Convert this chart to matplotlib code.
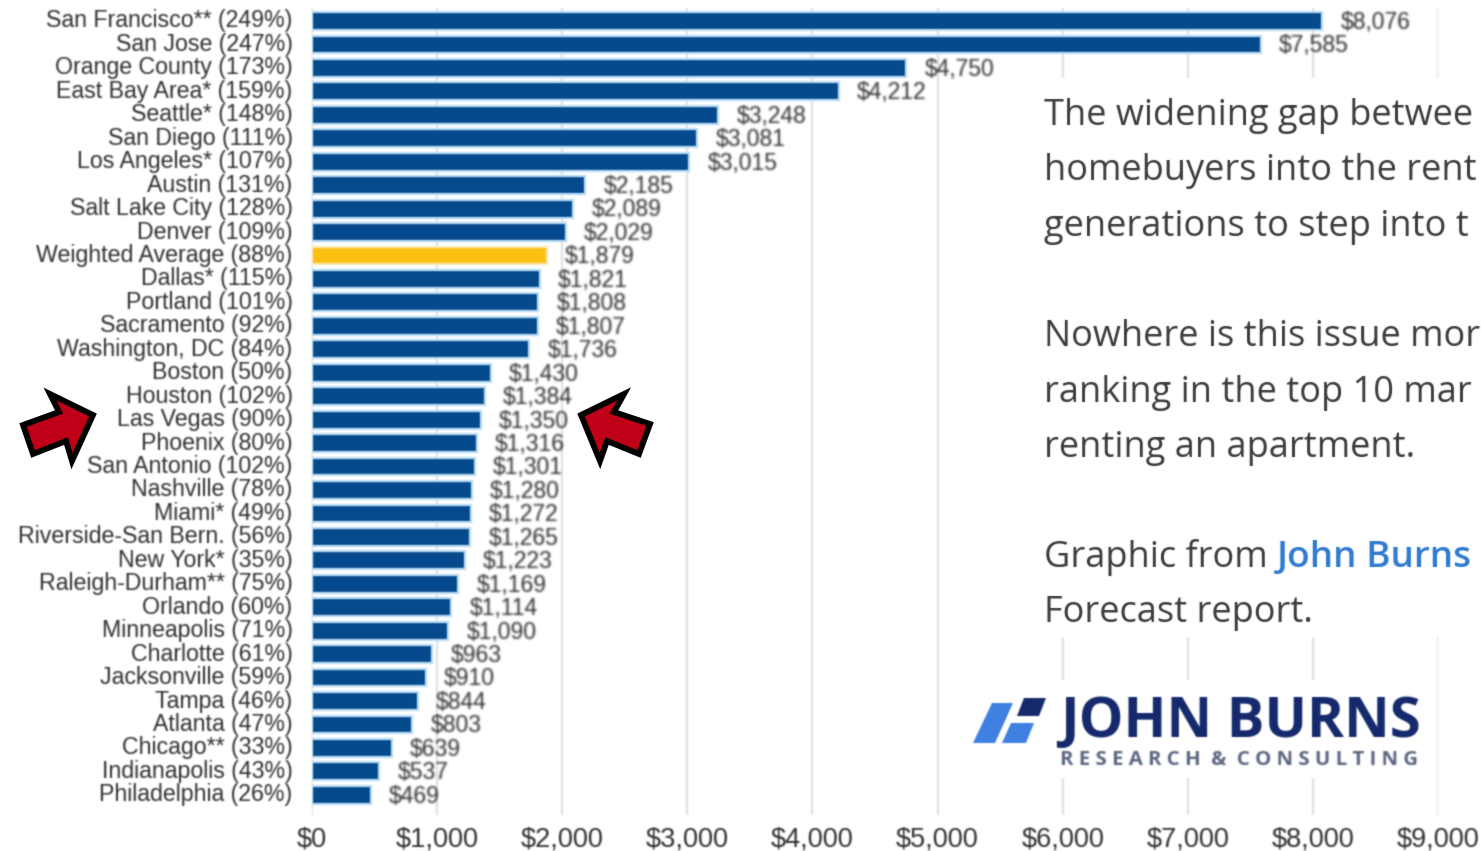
import matplotlib
matplotlib.use("Agg")
import matplotlib.pyplot as plt
import numpy as np
from matplotlib.patches import Polygon, Rectangle
from matplotlib.transforms import IdentityTransform

W, H = 1481, 851

markets = ["San Francisco** (249%)", "San Jose (247%)", "Orange County (173%)", "East Bay Area* (159%)",
           "Seattle* (148%)", "San Diego (111%)", "Los Angeles* (107%)", "Austin (131%)",
           "Salt Lake City (128%)", "Denver (109%)", "Weighted Average (88%)", "Dallas* (115%)",
           "Portland (101%)", "Sacramento (92%)", "Washington, DC (84%)", "Boston (50%)",
           "Houston (102%)", "Las Vegas (90%)", "Phoenix (80%)", "San Antonio (102%)",
           "Nashville (78%)", "Miami* (49%)", "Riverside-San Bern. (56%)", "New York* (35%)",
           "Raleigh-Durham** (75%)", "Orlando (60%)", "Minneapolis (71%)", "Charlotte (61%)",
           "Jacksonville (59%)", "Tampa (46%)", "Atlanta (47%)", "Chicago** (33%)",
           "Indianapolis (43%)", "Philadelphia (26%)"]
premium = [8076, 7585, 4750, 4212, 3248, 3081, 3015, 2185, 2089, 2029, 1879, 1821, 1808, 1807, 1736, 1430,
           1384, 1350, 1316, 1301, 1280, 1272, 1265, 1223, 1169, 1114, 1090, 963, 910, 844, 803, 639, 537, 469]
x_ticks = [0, 1000, 2000, 3000, 4000, 5000, 6000, 7000, 8000, 9000]
highlight = "Weighted Average (88%)"

body_lines = [("The widening gap betwee", 116), ("homebuyers into the rent", 171),
              ("generations to step into t", 227), ("Nowhere is this issue mor", 337),
              ("ranking in the top 10 mar", 393), ("renting an apartment.", 448),
              ("Forecast report.", 613)]

BLUE = "#054a8c"
GOLD = "#fdbf12"
GREY = "#2e2e2e"


def soften(sigma):
    # gaussian blur used as an agg filter, done on premultiplied colour
    def f(img, dpi):
        pad = int(3 * sigma) + 1
        t = np.arange(-pad, pad + 1)
        k = np.exp(-t ** 2 / (2 * sigma ** 2))
        k = k / k.sum()
        out = np.pad(img, ((pad, pad), (pad, pad), (0, 0)))
        out[..., :3] *= out[..., 3:]
        out = np.apply_along_axis(np.convolve, 0, out, k, mode="same")
        out = np.apply_along_axis(np.convolve, 1, out, k, mode="same")
        out[..., :3] /= np.maximum(out[..., 3:], 1e-4)
        return np.clip(out, 0, 1), -pad, -pad
    return f


def px(x, y):
    return x, H - y


fig = plt.figure(figsize=(W / 100, H / 100), dpi=100, facecolor="white")
plt.rcParams["font.family"] = ["Liberation Sans", "DejaVu Sans"]

# 0 sits at x=312, 9000 at x=1438; row i sits at y=21+23.45*i
ax = fig.add_axes([312 / W, 1 - 815 / H, (1438 - 312) / W, (815 - 8) / H])
ax.set_xlim(0, 9000)
ax.set_ylim(33.86, -0.554)
for s in ax.spines.values():
    s.set_visible(False)

ax.set_axisbelow(True)
ax.xaxis.grid(True, color="#d9d9d9", lw=1.2)
for g in ax.get_xgridlines():
    g.set_agg_filter(soften(0.9))

rows = np.arange(len(markets))
colors = [GOLD if m == highlight else BLUE for m in markets]
edges = ["#fde9b0" if m == highlight else "#b9dcf6" for m in markets]
bars = ax.barh(rows, premium, height=0.76, color=colors, edgecolor=edges, lw=1.6)
for b in bars:
    b.set_agg_filter(soften(0.7))

ax.set_yticks(rows, markets, fontsize=16.7, color=GREY, va="center")
ax.set_xticks(x_ticks, [f"${v:,}" for v in x_ticks], fontsize=19.5, color=GREY)
ax.tick_params(axis="y", length=0, pad=14)
ax.tick_params(axis="x", length=0, pad=8)
for lab in ax.get_yticklabels():
    lab.set_agg_filter(soften(0.8))
for lab in ax.get_xticklabels():
    lab.set_agg_filter(soften(0.8))

for i, v in enumerate(premium):
    ax.annotate(f"${v:,}", (v, i), xytext=(13, -1), textcoords="offset points",
                va="center", ha="left", fontsize=16.5, color=GREY,
                agg_filter=soften(0.8))

# white panel with the article text, drawn over the gridlines
tr = IdentityTransform()
fig.add_artist(Rectangle(px(962, 637), W - 962, 637 - 78, transform=tr, fc="white", ec="none", zorder=5))
fig.add_artist(Rectangle(px(960, 778), 1430 - 960, 778 - 680, transform=tr, fc="white", ec="none", zorder=5))

for line, y in body_lines:
    fig.text(*px(1044, y), line, transform=tr, family="Open Sans", fontsize=26, color="#3c3c3c",
             va="center", ha="left", zorder=6, agg_filter=soften(0.55))
fig.text(*px(1044, 558), "Graphic from", transform=tr, family="Open Sans", fontsize=26, color="#3c3c3c",
         va="center", ha="left", zorder=6, agg_filter=soften(0.55))
fig.text(*px(1277, 558), "John Burns", transform=tr, family="Open Sans", weight="semibold", fontsize=26.6,
         color="#2f7bd0", va="center", ha="left", zorder=6, agg_filter=soften(0.55))

# logo
logo_light = [[(973, 743), (992, 703), (1013, 703), (995, 743)],
              [(1002, 743), (1011, 723), (1034, 723), (1026, 743)]]
logo_dark = [[(1017, 716), (1024, 698), (1046, 698), (1039, 716)]]
for pts in logo_light:
    fig.add_artist(Polygon([px(*p) for p in pts], transform=tr, fc="#3f80e0", ec="none", zorder=6,
                           agg_filter=soften(0.7)))
for pts in logo_dark:
    fig.add_artist(Polygon([px(*p) for p in pts], transform=tr, fc="#14296b", ec="none", zorder=6,
                           agg_filter=soften(0.7)))
fig.text(*px(1060, 723), "JOHN BURNS", transform=tr, family="Open Sans", weight="bold", fontsize=40.5,
         color="#14296b", va="center", ha="left", zorder=6, agg_filter=soften(0.7))
fig.text(*px(1060, 760), "R E S E A R C H  &  C O N S U L T I N G", transform=tr, family="Open Sans",
         weight="bold", fontsize=14.7, color="#5a6480", va="center", ha="left", zorder=6,
         agg_filter=soften(0.8))

# the two red arrows next to Las Vegas
arrow_left = [(93, 415), (50, 394), (59, 412), (23, 425), (33, 454), (66, 441), (72, 461)]
arrow_right = [(581, 415), (624, 394), (614, 412), (650, 424), (639, 454), (607, 441), (600, 461)]
for pts in (arrow_left, arrow_right):
    fig.add_artist(Polygon([px(*p) for p in pts], transform=tr, fc="#c00016", ec="black", lw=4.2,
                           joinstyle="miter", zorder=7))

fig.savefig("out.png", dpi=100)
